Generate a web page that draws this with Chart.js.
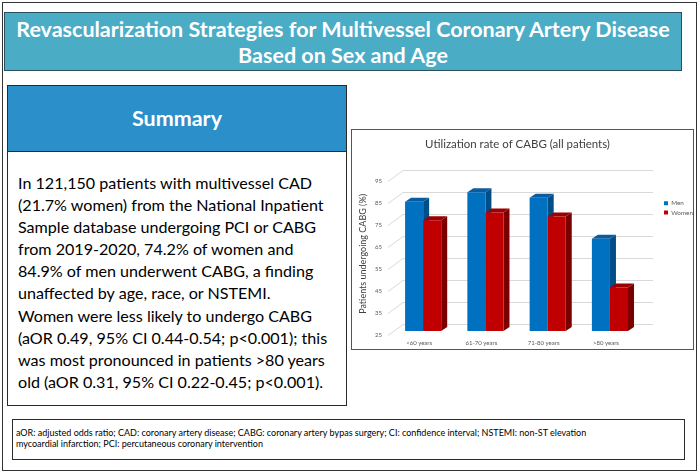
<!DOCTYPE html>
<html>
<head>
<meta charset="utf-8">
<script src="https://cdn.jsdelivr.net/npm/chart.js@4.4.1/dist/chart.umd.min.js"></script>
<style>
  html, body { margin: 0; padding: 0; background: #fff; }
  #page { position: relative; width: 700px; height: 475px; overflow: hidden; font-family: Lato, sans-serif; }
  .abs { position: absolute; box-sizing: border-box; }
  #frame { left: 2px; top: 2px; width: 695px; height: 469px; border: 1px solid #333; }
  #banner { left: 4px; top: 12px; width: 678px; height: 59px; background: #4bacc6; border: 1px solid #2c4f5c; }
  #bannerText { left: 0; top: 3px; width: 676px; text-align: center; color: #fff; font-weight: bold; line-height: 26px; white-space: nowrap; }
  #sumHead { left: 7px; top: 85px; width: 340px; height: 67px; background: #2b8fca; border: 1px solid #2a2a2a; }
  #sumTitle { left: 0; top: 17px; width: 338px; text-align: center; color: #fff; font-weight: bold; line-height: 30px; }
  #sumBody { left: 7px; top: 151px; width: 340px; height: 255px; border: 1px solid #2a2a2a; }
  #sumText { left: 10px; top: 20px; line-height: 22.1px; color: #000; white-space: nowrap; }
  #chartBox { left: 351px; top: 129px; width: 343px; height: 221px; border: 1px solid #555; background: #fff; }
  #chartBox canvas { position: absolute; left: 0; top: 0; }
  #foot { left: 12px; top: 419px; width: 673px; height: 41px; border: 1px solid #2a2a2a; }
  #footText { left: 3px; top: 7px; line-height: 11px; color: #000; white-space: nowrap; }
</style>
</head>
<body>
<div id="page">
  <div id="frame" class="abs"></div>
  <div id="banner" class="abs">
    <div id="bannerText" class="abs"><span id="t1">Revascularization Strategies for Multivessel Coronary Artery Disease</span><br>Based on Sex and Age</div>
  </div>
  <div id="sumHead" class="abs"><div id="sumTitle" class="abs">Summary</div></div>
  <div id="sumBody" class="abs">
    <div id="sumText" class="abs">In 121,150 patients with multivessel CAD<br><span id="s2">(21.7% women) from the National Inpatient</span><br>Sample database undergoing PCI or CABG<br>from 2019-2020, 74.2% of women and<br>84.9% of men underwent CABG, a finding<br>unaffected by age, race, or NSTEMI.<br>Women were less likely to undergo CABG<br>(aOR 0.49, 95% CI 0.44-0.54; p&lt;0.001); this<br>was most pronounced in patients &gt;80 years<br>old (aOR 0.31, 95% CI 0.22-0.45; p&lt;0.001).</div>
  </div>
  <div id="chartBox" class="abs"><canvas id="chart" width="341" height="219"></canvas></div>
  <div id="foot" class="abs">
    <div id="footText" class="abs"><span id="f1">aOR: adjusted odds ratio; CAD: coronary artery disease; CABG: coronary artery bypas surgery; CI: confidence interval; NSTEMI: non-ST elevation</span><br>mycoardial infarction; PCI: percutaneous coronary intervention</div>
  </div>
</div>
<script>
// values
const ageGroups = ['<60 years', '61-70 years', '71-80 years', '>80 years'];
const menRate = [83.7, 88, 85.5, 66.9];
const womenRate = [75.3, 78.8, 77, 44.7];
const yMin = 25;
const yMax = 95;
const yStep = 10;

const meas = document.createElement('canvas').getContext('2d');
function fitSize(text, target, weight) {
  meas.font = (weight || 'normal') + ' 100px Lato';
  return 100 * target / meas.measureText(text).width;
}

// size the html text so the widths match the picture
document.getElementById('bannerText').style.fontSize = fitSize(document.getElementById('t1').textContent, 656, 'bold') + 'px';
document.getElementById('sumTitle').style.fontSize = fitSize('Summary', 90, 'bold') + 'px';
document.getElementById('sumText').style.fontSize = fitSize(document.getElementById('s2').textContent, 306) + 'px';
document.getElementById('footText').style.fontSize = fitSize(document.getElementById('f1').textContent, 572) + 'px';

const textGray = '#595959';
const tickSize = fitSize('<60 years', 26);
const faces = [
  { side: '#004d88', top: '#0a5c9e' },
  { side: '#7a0000', top: '#9c0000' }
];
const dx = 6, dy = 4;

// back wall gridlines + side/top faces of the columns
const bar3d = {
  id: 'bar3d',
  beforeDatasetsDraw(chart) {
    const ctx = chart.ctx;
    const { left, right } = chart.chartArea;
    const ys = chart.scales.y;
    ctx.save();
    ctx.strokeStyle = '#d9d9d9';
    ctx.lineWidth = 1;
    ys.ticks.forEach(t => {
      const py = Math.round(ys.getPixelForValue(t.value)) + 0.5;
      ctx.beginPath();
      ctx.moveTo(left - 4, py + 4);
      ctx.lineTo(left + 11, py - 7);
      ctx.lineTo(right + 12, py - 7);
      ctx.stroke();
    });
    chart.data.datasets.forEach((ds, i) => {
      chart.getDatasetMeta(i).data.forEach(bar => {
        const p = bar.getProps(['x', 'y', 'base', 'width'], true);
        const l = p.x - p.width / 2, r = p.x + p.width / 2;
        ctx.fillStyle = faces[i].side;
        ctx.beginPath();
        ctx.moveTo(r, p.y);
        ctx.lineTo(r + dx, p.y - dy);
        ctx.lineTo(r + dx, p.base - dy);
        ctx.lineTo(r, p.base);
        ctx.closePath();
        ctx.fill();
        ctx.fillStyle = faces[i].top;
        ctx.beginPath();
        ctx.moveTo(l, p.y);
        ctx.lineTo(l + dx, p.y - dy);
        ctx.lineTo(r + dx, p.y - dy);
        ctx.lineTo(r, p.y);
        ctx.closePath();
        ctx.fill();
      });
    });
    ctx.restore();
  }
};

// nudge the legend toward the right edge like the original
const legendShift = {
  id: 'legendShift',
  afterLayout(chart) {
    const lg = chart.legend;
    const shift = 309 - lg.left;
    lg.left += shift;
    lg.right += shift;
  }
};

new Chart(document.getElementById('chart'), {
  type: 'bar',
  data: {
    labels: ageGroups,
    datasets: [
      { label: 'Men', data: menRate, base: yMin, backgroundColor: '#0070c0', borderWidth: 0, categoryPercentage: 0.58, barPercentage: 1 },
      { label: 'Women', data: womenRate, base: yMin, backgroundColor: '#c00000', borderWidth: 0, categoryPercentage: 0.58, barPercentage: 1 }
    ]
  },
  options: {
    responsive: false,
    animation: false,
    layout: { padding: { left: 0, right: 10, top: 0, bottom: 0 } },
    plugins: {
      title: {
        display: true,
        text: 'Utilization rate of CABG (all patients)',
        color: '#404040',
        font: { family: 'Lato', size: fitSize('Utilization rate of CABG (all patients)', 185), weight: 'normal' },
        padding: { top: 7.5, bottom: 25.5 }
      },
      legend: {
        position: 'right',
        align: 'start',
        fullSize: false,
        title: { display: true, text: '', font: { size: 7 }, padding: { top: 6, bottom: 6 } },
        labels: { boxWidth: 4, boxHeight: 4, padding: 3, color: textGray, font: { family: 'Lato', size: 6.3 } }
      },
      tooltip: { enabled: false }
    },
    scales: {
      x: {
        grid: { display: false, drawTicks: false },
        border: { display: false },
        ticks: { padding: 8, autoSkip: false, maxRotation: 0, minRotation: 0, labelOffset: -4, color: textGray, font: { family: 'Lato', size: tickSize } },
        afterFit(s) { s.height = 18; }
      },
      y: {
        min: yMin,
        max: yMax,
        grid: { display: false, drawTicks: false },
        border: { display: false },
        ticks: { stepSize: yStep, padding: 10, labelOffset: 4, color: textGray, font: { family: 'Lato', size: tickSize } },
        title: {
          display: true,
          text: 'Patients undergoing CABG (%)',
          color: '#404040',
          font: { family: 'Lato', size: fitSize('Patients undergoing CABG (%)', 120) },
          padding: { top: 6, bottom: 0 }
        },
        afterFit(s) { s.width = 40; }
      }
    }
  },
  plugins: [bar3d, legendShift]
});
</script>
</body>
</html>
